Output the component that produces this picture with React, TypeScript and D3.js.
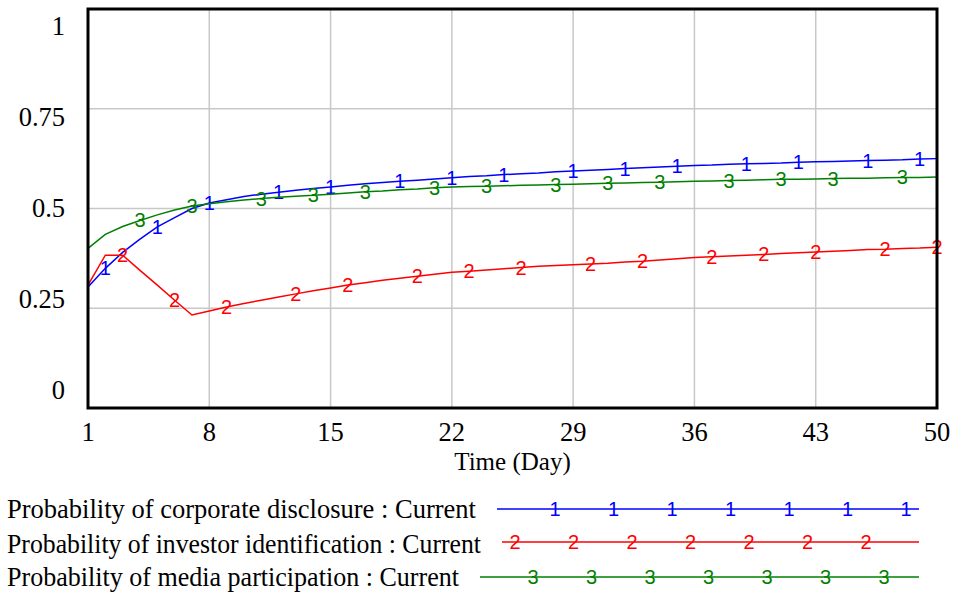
import React, { useEffect, useRef } from 'react';
import * as d3 from 'd3';

// Simulation output, days 1..50
const days = d3.range(1, 51);

const corporateDisclosure = [
  0.303, 0.350, 0.390, 0.423, 0.454, 0.477, 0.500, 0.514, 0.522, 0.530,
  0.536, 0.541, 0.546, 0.550, 0.554, 0.558, 0.562, 0.565, 0.568, 0.571,
  0.574, 0.577, 0.580, 0.582, 0.585, 0.587, 0.589, 0.592, 0.594, 0.596,
  0.598, 0.600, 0.602, 0.604, 0.606, 0.608, 0.609, 0.611, 0.612, 0.613,
  0.614, 0.616, 0.617, 0.618, 0.619, 0.620, 0.621, 0.622, 0.624, 0.625,
];

const investorIdentification = [
  0.308, 0.383, 0.383, 0.345, 0.308, 0.270, 0.233, 0.243, 0.253, 0.262,
  0.270, 0.278, 0.286, 0.294, 0.301, 0.308, 0.314, 0.320, 0.325, 0.330,
  0.335, 0.340, 0.343, 0.346, 0.349, 0.352, 0.355, 0.357, 0.359, 0.361,
  0.363, 0.366, 0.368, 0.371, 0.374, 0.377, 0.379, 0.381, 0.383, 0.385,
  0.387, 0.389, 0.391, 0.393, 0.395, 0.397, 0.398, 0.400, 0.401, 0.403,
];

const mediaParticipation = [
  0.400, 0.435, 0.455, 0.470, 0.484, 0.496, 0.506, 0.512, 0.517, 0.521,
  0.525, 0.528, 0.531, 0.533, 0.536, 0.539, 0.542, 0.544, 0.547, 0.549,
  0.552, 0.554, 0.555, 0.556, 0.557, 0.558, 0.559, 0.560, 0.561, 0.562,
  0.563, 0.564, 0.565, 0.566, 0.567, 0.568, 0.569, 0.570, 0.571, 0.572,
  0.573, 0.573, 0.574, 0.575, 0.576, 0.576, 0.577, 0.578, 0.578, 0.579,
];

// days where Vensim drew the series number on the line
const markerDays1 = [2, 5, 8, 12, 15, 19, 22, 25, 29, 32, 35, 39, 42, 46, 49];
const markerDays2 = [3, 6, 9, 13, 16, 20, 23, 26, 30, 33, 37, 40, 43, 47, 50];
const markerDays3 = [4, 7, 11, 14, 17, 21, 24, 28, 31, 34, 38, 41, 44, 48];

const xTicks = [1, 8, 15, 22, 29, 36, 43, 50];
const yTicks = [0, 0.25, 0.5, 0.75, 1];
const yTickLabels = ['0', '0.25', '0.5', '0.75', '1'];

const seriesNames = [
  'Probability of corporate disclosure : Current',
  'Probability of investor identification : Current',
  'Probability of media participation : Current',
];

const series = [
  { id: '1', values: corporateDisclosure, markers: markerDays1, colour: '#0000ff' },
  { id: '2', values: investorIdentification, markers: markerDays2, colour: '#ff0000' },
  { id: '3', values: mediaParticipation, markers: markerDays3, colour: '#008000' },
];

const WIDTH = 966;
const HEIGHT = 595;
const serif = '"Liberation Serif", "Times New Roman", serif';
const markerFont = '"Liberation Sans", Arial, sans-serif';

export default function App() {
  const root = useRef<SVGSVGElement>(null);

  useEffect(() => {
    const svg = d3.select(root.current);
    svg.selectAll('*').remove();

    const plot = { left: 88, right: 937, top: 9, bottom: 408 };

    const x = d3.scaleLinear().domain([1, 50]).range([plot.left, plot.right]);
    const y = d3.scaleLinear().domain([0, 1]).range([plot.bottom, plot.top]);
    // Vensim spreads the y labels a bit inside the frame
    const yLabel = d3.scaleLinear().domain([0, 1]).range([399, 35]);

    // grid
    const grid = svg.append('g').attr('stroke', '#c8c8c8').attr('stroke-width', 1.5);
    grid.selectAll('.vgrid')
      .data(xTicks.slice(1, -1))
      .enter().append('line')
      .attr('x1', d => x(d)).attr('x2', d => x(d))
      .attr('y1', plot.top).attr('y2', plot.bottom);
    grid.selectAll('.hgrid')
      .data(yTicks.slice(1, -1))
      .enter().append('line')
      .attr('x1', plot.left).attr('x2', plot.right)
      .attr('y1', d => y(d)).attr('y2', d => y(d));

    // series
    const line = d3.line<number>()
      .x((d, i) => x(days[i]))
      .y(d => y(d));

    series.forEach(s => {
      const g = svg.append('g');
      g.append('path')
        .attr('d', line(s.values))
        .attr('fill', 'none')
        .attr('stroke', s.colour)
        .attr('stroke-width', 1.5);

      g.selectAll('text')
        .data(s.markers)
        .enter().append('text')
        .attr('x', d => x(d))
        .attr('y', d => y(s.values[d - 1]))
        .attr('dy', '0.35em')
        .attr('text-anchor', 'middle')
        .attr('font-family', markerFont)
        .attr('font-size', 20)
        .attr('fill', s.colour)
        .text(s.id);
    });

    // frame
    svg.append('rect')
      .attr('x', plot.left).attr('y', plot.top)
      .attr('width', plot.right - plot.left)
      .attr('height', plot.bottom - plot.top)
      .attr('fill', 'none')
      .attr('stroke', '#000')
      .attr('stroke-width', 3);

    // y labels
    svg.append('g').selectAll('text')
      .data(yTicks)
      .enter().append('text')
      .attr('x', 65)
      .attr('y', d => yLabel(d))
      .attr('text-anchor', 'end')
      .attr('font-family', serif)
      .attr('font-size', 26.5)
      .attr('fill', '#000')
      .text((d, i) => yTickLabels[i]);

    // x labels
    svg.append('g').selectAll('text')
      .data(xTicks)
      .enter().append('text')
      .attr('x', d => x(d))
      .attr('y', 441)
      .attr('text-anchor', 'middle')
      .attr('font-family', serif)
      .attr('font-size', 26.5)
      .attr('fill', '#000')
      .text(d => d);

    svg.append('text')
      .attr('x', (plot.left + plot.right) / 2)
      .attr('y', 470)
      .attr('text-anchor', 'middle')
      .attr('font-family', serif)
      .attr('font-size', 25)
      .attr('fill', '#000')
      .text('Time (Day)');

    // legend
    const legendRows = [518, 553, 586];
    const labelWidth = [469, 474, 452];
    const lineY = [509, 542, 577];
    const markerStart = [58, 13, 53]; // first digit offset from line start
    const lineEnd = 919;

    series.forEach((s, i) => {
      svg.append('text')
        .attr('x', 7)
        .attr('y', legendRows[i])
        .attr('font-family', serif)
        .attr('font-size', 26.6)
        .attr('textLength', labelWidth[i])
        .attr('lengthAdjust', 'spacingAndGlyphs')
        .attr('fill', '#000')
        .text(seriesNames[i]);

      const start = 7 + labelWidth[i] + 21;

      svg.append('line')
        .attr('x1', start).attr('x2', lineEnd)
        .attr('y1', lineY[i]).attr('y2', lineY[i])
        .attr('stroke', s.colour)
        .attr('stroke-width', 1.5);

      const ticks = d3.range(7).map(k => start + markerStart[i] + k * 58.5);
      svg.append('g').selectAll('text')
        .data(ticks)
        .enter().append('text')
        .attr('x', d => d)
        .attr('y', lineY[i])
        .attr('dy', '0.35em')
        .attr('text-anchor', 'middle')
        .attr('font-family', markerFont)
        .attr('font-size', 20)
        .attr('fill', s.colour)
        .text(s.id);
    });
  }, []);

  return (
    <svg
      ref={root}
      width={WIDTH}
      height={HEIGHT}
      style={{ position: 'absolute', left: 0, top: 0, background: '#fff' }}
    />
  );
}
